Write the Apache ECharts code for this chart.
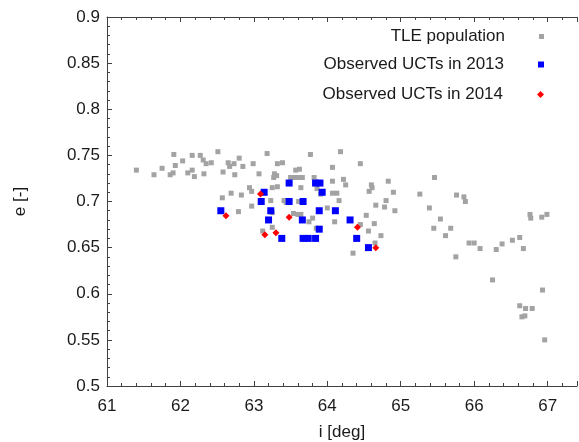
<!DOCTYPE html>
<html>
<head>
<meta charset="utf-8">
<script src="https://cdn.jsdelivr.net/npm/echarts@6/dist/echarts.min.js"></script>
<style>html,body{margin:0;padding:0;background:#fff;}#c{width:579px;height:442px;}</style>
</head>
<body>
<div id="c"></div>
<script>
const tleI = [61.40,61.64,61.75,61.86,61.90,61.93,61.91,62.03,62.16,62.10,
62.16,62.19,62.27,62.31,62.35,62.42,62.32,62.51,62.58,62.65,
62.67,62.73,62.74,62.57,62.69,62.79,62.80,62.85,62.99,63.18,
63.07,63.32,63.39,63.28,63.31,63.27,63.57,63.62,63.50,63.56,
63.62,63.66,63.77,63.82,64.07,64.18,64.07,64.22,64.25,64.45,
64.60,64.57,64.61,64.83,64.90,64.80,64.78,64.92,64.73,62.83,
62.94,62.97,63.25,63.32,63.64,63.86,63.91,64.07,64.13,64.16,
64.66,63.23,63.41,63.44,63.61,62.97,63.25,63.54,63.60,63.64,
63.80,63.75,64.00,64.10,64.53,64.45,64.64,64.56,64.65,64.35,
63.12,63.25,63.85,65.46,65.26,65.39,65.54,65.45,65.68,65.61,
65.75,65.76,65.86,65.88,65.93,66.00,66.08,66.30,66.38,66.52,
66.62,66.67,66.25,66.76,66.77,66.92,66.99,66.93,66.62,66.70,
66.79,66.65,66.69,66.96];
const tleE = [0.734,0.729,0.736,0.729,0.731,0.739,0.751,0.744,0.750,0.731,
0.734,0.727,0.750,0.745,0.741,0.742,0.730,0.754,0.732,0.742,
0.738,0.741,0.729,0.704,0.709,0.689,0.747,0.738,0.741,0.752,
0.730,0.741,0.742,0.730,0.728,0.726,0.734,0.735,0.726,0.726,
0.726,0.726,0.751,0.726,0.737,0.754,0.722,0.724,0.718,0.741,
0.718,0.711,0.715,0.722,0.710,0.701,0.694,0.690,0.663,0.707,
0.715,0.711,0.715,0.716,0.715,0.714,0.708,0.709,0.709,0.701,
0.696,0.701,0.701,0.699,0.700,0.695,0.688,0.687,0.686,0.686,
0.682,0.678,0.693,0.678,0.685,0.675,0.676,0.668,0.655,0.644,
0.668,0.672,0.671,0.726,0.708,0.693,0.681,0.671,0.671,0.663,
0.640,0.707,0.705,0.700,0.655,0.655,0.649,0.648,0.654,0.658,
0.661,0.649,0.615,0.686,0.682,0.683,0.686,0.604,0.587,0.584,
0.584,0.575,0.576,0.550];
const uct13I = [62.55,63.10,63.14,63.20,63.23,63.38,63.48,63.48,63.67,63.66,63.67,63.74,63.84,63.89,63.89,63.84,63.90,63.93,64.11,64.31,64.40,64.56];
const uct13E = [0.69,0.70,0.71,0.68,0.69,0.66,0.72,0.70,0.70,0.68,0.66,0.66,0.66,0.69,0.67,0.72,0.72,0.71,0.69,0.68,0.66,0.65];
const uct14I = [62.62,63.09,63.48,64.41,63.15,63.30,64.66];
const uct14E = [0.6845,0.708,0.683,0.672,0.664,0.666,0.650];
const xTicks = [61,62,63,64,65,66,67];
const yTicks = [0.5,0.55,0.6,0.65,0.7,0.75,0.8,0.85,0.9];
const names = ['TLE population','Observed UCTs in 2013','Observed UCTs in 2014'];

const zip = (a, b) => a.map((v, i) => [v, b[i]]);
const FONT = 'Liberation Sans';
const TXT = '#1a1a1a';
const AX = '#404040';

const chart = echarts.init(document.getElementById('c'), null, {renderer: 'canvas'});
const legendBase = {
  orient: 'vertical', align: 'right', right: 30, itemGap: 0,
  selectedMode: false,
  textStyle: {fontFamily: FONT, fontSize: 17, color: TXT, padding: [0, 29, 0, 0]}
};
chart.setOption({
  animation: false,
  backgroundColor: '#fff',
  grid: {left: 107, right: 2, top: 17, bottom: 56, containLabel: false, outerBoundsMode: 'none'},
  legend: [
    Object.assign({}, legendBase, {top: 23, data: [names[0]], icon: 'rect', itemWidth: 5, itemHeight: 5}),
    Object.assign({}, legendBase, {top: 51, data: [names[1]], icon: 'rect', itemWidth: 6, itemHeight: 6}),
    Object.assign({}, legendBase, {top: 81, data: [names[2]], icon: 'diamond', itemWidth: 7, itemHeight: 7})
  ],
  xAxis: [{
    type: 'value', min: xTicks[0], max: 67.4, interval: 1, position: 'bottom',
    name: 'i [deg]', nameLocation: 'middle', nameGap: 38,
    nameTextStyle: {fontFamily: FONT, fontSize: 17, color: TXT},
    axisLine: {show: true, onZero: false, lineStyle: {color: AX, width: 1}},
    axisTick: {show: true, inside: true, length: 5, lineStyle: {color: AX}},
    minorTick: {show: true, splitNumber: 5, length: 3, lineStyle: {color: AX}},
    axisLabel: {fontFamily: FONT, fontSize: 17, color: TXT, margin: 12,
      formatter: v => xTicks.includes(v) ? String(v) : ''},
    splitLine: {show: false}
  }, {
    type: 'value', min: xTicks[0], max: 67.4, interval: 1, position: 'top',
    axisLine: {show: true, onZero: false, lineStyle: {color: AX, width: 1}},
    axisTick: {show: true, inside: true, length: 5, lineStyle: {color: AX}},
    minorTick: {show: true, splitNumber: 5, length: 3, lineStyle: {color: AX}},
    axisLabel: {show: false},
    splitLine: {show: false}
  }],
  yAxis: {
    type: 'value', min: yTicks[0], max: yTicks[yTicks.length - 1], interval: 0.05,
    name: 'e [-]', nameLocation: 'middle', nameGap: 78,
    nameTextStyle: {fontFamily: FONT, fontSize: 17, color: TXT},
    axisLine: {show: true, onZero: false, lineStyle: {color: AX, width: 1}},
    axisTick: {show: true, inside: true, length: 5, lineStyle: {color: AX}},
    minorTick: {show: true, splitNumber: 5, length: 3, lineStyle: {color: AX}},
    axisLabel: {fontFamily: FONT, fontSize: 17, color: TXT, margin: 7,
      formatter: v => String(Math.round(v * 100) / 100)},
    splitLine: {show: false}
  },
  series: [
    {name: names[0], type: 'scatter', symbol: 'rect', symbolSize: 5,
     itemStyle: {color: '#a3a3a3', opacity: 1}, data: zip(tleI, tleE), z: 2},
    {name: names[1], type: 'scatter', symbol: 'rect', symbolSize: 7,
     itemStyle: {color: '#0000ff', opacity: 1}, data: zip(uct13I, uct13E), z: 3},
    {name: names[2], type: 'scatter', symbol: 'diamond', symbolSize: 7,
     itemStyle: {color: '#ff0000', opacity: 1}, data: zip(uct14I, uct14E), z: 4}
  ]
});
</script>
</body>
</html>
